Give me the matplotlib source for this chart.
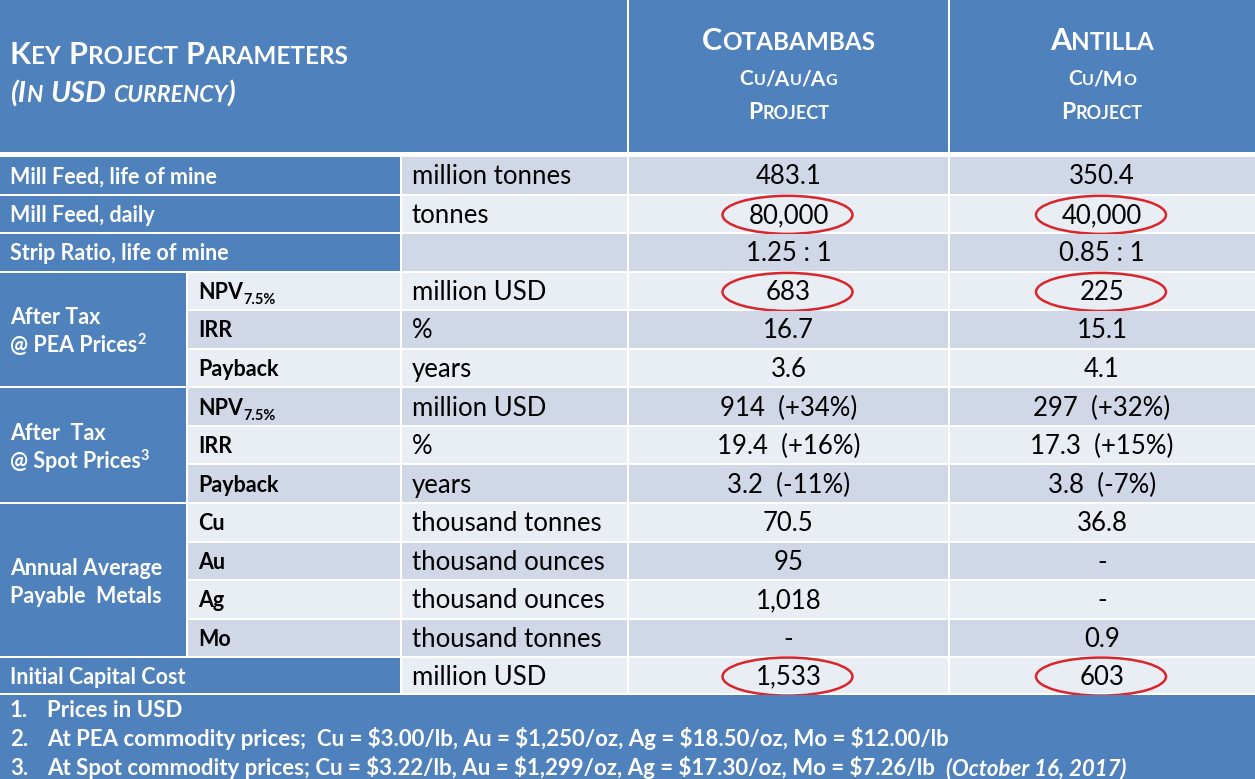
import matplotlib.pyplot as plt
from matplotlib.patches import Rectangle, Ellipse

# ---- data ----
row_labels = ['Mill Feed, life of mine', 'Mill Feed, daily', 'Strip Ratio, life of mine',
              '', '', '', '', '', '', '', '', '', '', 'Initial Capital Cost']
sub_labels = ['', '', '', 'NPV', 'IRR', 'Payback', 'NPV', 'IRR', 'Payback',
              'Cu', 'Au', 'Ag', 'Mo', '']
units = ['million tonnes', 'tonnes', '', 'million USD', '%', 'years', 'million USD', '%', 'years',
         'thousand tonnes', 'thousand ounces', 'thousand ounces', 'thousand tonnes', 'million USD']
cotabambas = ['483.1', '80,000', '1.25 : 1', '683', '16.7', '3.6', '914  (+34%)', '19.4  (+16%)',
              '3.2  (-11%)', '70.5', '95', '1,018', '-', '1,533']
antilla = ['350.4', '40,000', '0.85 : 1', '225', '15.1', '4.1', '297  (+32%)', '17.3  (+15%)',
           '3.8  (-7%)', '36.8', '-', '-', '0.9', '603']
circled = [1, 3, 13]

group_lines = [['After Tax', '@ PEA Prices'], ['After  Tax', '@ Spot Prices'],
               ['Annual Average', 'Payable  Metals']]
group_notes = ['2', '3', '']
group_rows = [(3, 6), (6, 9), (9, 13)]

footnotes = ['Prices in USD',
             'At PEA commodity prices;  Cu = $3.00/lb, Au = $1,250/oz, Ag = $18.50/oz, Mo = $12.00/lb',
             'At Spot commodity prices; Cu = $3.22/lb, Au = $1,299/oz, Ag = $17.30/oz, Mo = $7.26/lb']
footnote_date = '(October 16, 2017)'

# ---- style ----
W, H = 1255, 779
BLUE = '#4F81BD'
DARK = '#D0D8E8'
LIGHT = '#E9EDF4'
RED = '#D8262B'
FONT = ['Lato', 'DejaVu Sans']
NARROW = ['Liberation Sans Narrow', 'Lato', 'DejaVu Sans']
VAL = 18.5   # units / values
LAB = 15.5   # bold row labels

fig = plt.figure(figsize=(W / 100, H / 100), dpi=100)
ax = fig.add_axes([0, 0, 1, 1])
ax.set_xlim(0, W)
ax.set_ylim(H, 0)
ax.axis('off')
rend = fig.canvas.get_renderer()


def cell(x0, x1, y0, y1, color):
    ax.add_patch(Rectangle((x0 + 1, y0 + 1), x1 - x0 - 2, y1 - y0 - 2, facecolor=color,
                           edgecolor='none'))


def runs(x, y, parts, ha='left', color='black', family=FONT):
    # parts: (text, size, weight, style, dy)
    arts = []
    cx = 0
    for txt, size, weight, style, dy in parts:
        if txt == ' ':
            cx += 0.26 * size * 100 / 72
            continue
        t = ax.text(0, y + dy, txt, fontsize=size, fontweight=weight, fontstyle=style,
                    color=color, family=family, va='baseline', ha='left', parse_math=False)
        arts.append((t, cx))
        cx += t.get_window_extent(renderer=rend).width
    off = {'left': 0, 'center': -cx / 2, 'right': -cx}[ha]
    for t, px in arts:
        t.set_x(x + off + px)


def smallcaps(s, big, small, weight='bold', style='normal'):
    parts = []
    for word_i, word in enumerate(s.split(' ')):
        if word_i:
            parts.append((' ', big, weight, style, 0))
        buf, buf_big = '', None
        for ch in word:
            is_big = not ch.islower()
            if buf and is_big != buf_big:
                parts.append((buf, big if buf_big else small, weight, style, 0))
                buf = ''
            buf += ch.upper()
            buf_big = is_big
        if buf:
            parts.append((buf, big if buf_big else small, weight, style, 0))
    return parts


xs = [0, 187, 401, 628, 949, W]
top0, rh = 156, 38.55
tops = [top0 + i * rh for i in range(len(units))] + [694]

# header
cell(-2, xs[3], -2, 153, BLUE)
cell(xs[3], xs[4], -2, 153, BLUE)
cell(xs[4], W + 2, -2, 153, BLUE)
runs(10, 64, smallcaps('Key Project Parameters', 22, 17.5), color='white')
runs(10, 102, smallcaps('(In USD currency)', 21, 16.5, style='italic'), color='white')
ccx = [(xs[3] + xs[4]) / 2, (xs[4] + xs[5]) / 2]
for cx, name, metals in [(ccx[0], 'Cotabambas', 'Cu/Au/Ag'), (ccx[1], 'Antilla', 'Cu/Mo')]:
    runs(cx, 50, smallcaps(name, 22, 17.5), ha='center', color='white')
    runs(cx, 85, smallcaps(metals, 15, 11.5), ha='center', color='white')
    runs(cx, 119, smallcaps('Project', 16.5, 13), ha='center', color='white')

# body
for i in range(len(units)):
    y0, y1 = tops[i], tops[i + 1]
    yc = (y0 + y1) / 2
    base = yc + 9
    shade = DARK if i % 2 == 0 else LIGHT
    if row_labels[i]:
        cell(-2, xs[2], y0, y1, BLUE)
        runs(10, base - 1, [(row_labels[i], LAB, 'bold', 'normal', 0)], color='white')
    else:
        cell(xs[1], xs[2], y0, y1, shade)
        parts = [(sub_labels[i], LAB, 'bold', 'normal', 0)]
        if sub_labels[i] == 'NPV':
            parts.append(('7.5%', 10.5, 'bold', 'normal', 5))
        runs(198, base - 1, parts)
    cell(xs[2], xs[3], y0, y1, shade)
    cell(xs[3], xs[4], y0, y1, shade)
    cell(xs[4], W + 2, y0, y1, shade)
    runs(412, base, [(units[i], VAL, 'normal', 'normal', 0)])
    runs(ccx[0], base, [(cotabambas[i], VAL, 'normal', 'normal', 0)], ha='center')
    runs(ccx[1], base, [(antilla[i], VAL, 'normal', 'normal', 0)], ha='center')
    if i in circled:
        for cx in ccx:
            ax.add_patch(Ellipse((cx - 1, yc + 1), 130, 38, facecolor='none', edgecolor=RED, lw=1.8))

for lines, note, (r0, r1) in zip(group_lines, group_notes, group_rows):
    cell(-2, xs[1], tops[r0], tops[r1], BLUE)
    ym = (tops[r0] + tops[r1]) / 2
    runs(10, ym - 5, [(lines[0], LAB, 'bold', 'normal', 0)], color='white')
    parts = [(lines[1], LAB, 'bold', 'normal', 0)]
    if note:
        parts.append((note, 10.5, 'bold', 'normal', -8))
    runs(10, ym + 23, parts, color='white')

# footer
cell(-2, W + 2, tops[-1], H + 2, BLUE)
FS = 16
for k, note in enumerate(footnotes):
    yb = 717 + k * 29
    runs(10, yb, [(f'{k + 1}.', FS, 'bold', 'normal', 0)], color='white', family=NARROW)
    parts = [(note, FS, 'bold', 'normal', 0)]
    if k == 2:
        parts += [(' ', FS, 'bold', 'normal', 0), (' ', FS, 'bold', 'normal', 0),
                  (footnote_date, FS, 'bold', 'italic', 0)]
    runs(47, yb, parts, color='white', family=NARROW)

fig.savefig('out.png', dpi=100)
